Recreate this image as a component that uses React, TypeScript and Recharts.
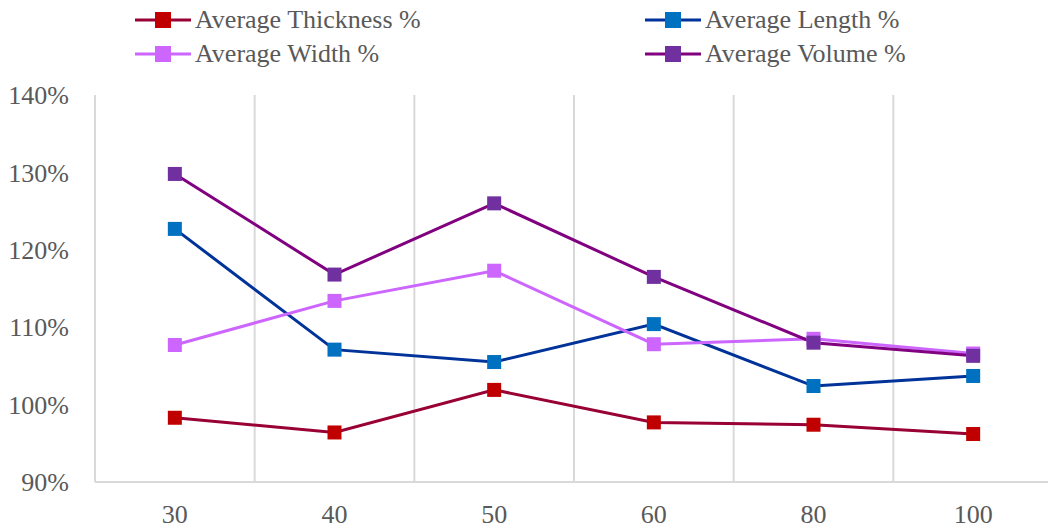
import { Line, LineChart, ReferenceLine, XAxis, YAxis } from 'recharts'

const categories = ['30', '40', '50', '60', '80', '100']
const thickness = [98.3, 96.4, 101.9, 97.7, 97.4, 96.2]
const length = [122.7, 107.1, 105.5, 110.4, 102.4, 103.7]
const width = [107.7, 113.4, 117.3, 107.8, 108.5, 106.6]
const volume = [129.8, 116.8, 126.0, 116.5, 108.0, 106.3]
const yTicks = [90, 100, 110, 120, 130, 140]

const series = [
  { key: 'thickness', name: 'Average Thickness %', values: thickness, line: '#990033', marker: '#C00000' },
  { key: 'length', name: 'Average Length %', values: length, line: '#003399', marker: '#0070C0' },
  { key: 'width', name: 'Average Width %', values: width, line: '#CC66FF', marker: '#CC66FF' },
  { key: 'volume', name: 'Average Volume %', values: volume, line: '#800080', marker: '#7030A0' },
]

const data = categories.map((c, i) => {
  const row: Record<string, number | string> = { pos: i, label: c }
  series.forEach((s) => {
    row[s.key] = s.values[i]
  })
  return row
})

// boundaries between categories, where the vertical grid lines go
const boundaries = categories.slice(1).map((_, i) => i + 0.5)

const FONT = '"Times New Roman", "Liberation Serif", serif'
const TEXT = '#595959'
const GRID = '#D9D9D9'

function squareDot(fill: string) {
  return (props: any) => {
    const { cx, cy, index } = props
    if (cx == null || cy == null) return <g key={index} />
    return <rect key={index} x={cx - 7} y={cy - 7} width={14} height={14} fill={fill} />
  }
}

function LegendBox() {
  const cols = [135, 645]
  const rows = [20, 54]
  return (
    <div style={{ position: 'absolute', left: 0, top: 0, width: 1048, height: 80 }}>
      {series.map((s, i) => (
        <div
          key={s.key}
          style={{
            position: 'absolute',
            left: cols[i % 2],
            top: rows[Math.floor(i / 2)] - 15,
            height: 30,
            display: 'flex',
            alignItems: 'center',
            fontFamily: FONT,
            fontSize: 26,
            color: TEXT,
            whiteSpace: 'nowrap',
          }}
        >
          <svg width={58} height={30} style={{ marginRight: 2 }}>
            <line x1={0} x2={56} y1={15} y2={15} stroke={s.line} strokeWidth={3} />
            <rect x={20} y={7} width={16} height={16} fill={s.marker} />
          </svg>
          <span>{s.name}</span>
        </div>
      ))}
    </div>
  )
}

export default function App() {
  return (
    <div style={{ position: 'absolute', left: 0, top: 0, width: 1048, height: 528, overflow: 'hidden', background: '#fff' }}>
      <LineChart
        width={1060}
        height={528}
        data={data}
        margin={{ top: 95, right: 7, bottom: 16, left: 0 }}
      >
        {boundaries.map((b) => (
          <ReferenceLine key={b} x={b} stroke={GRID} strokeWidth={2} />
        ))}
        <XAxis
          dataKey="pos"
          type="number"
          height={30}
          domain={[-0.5, 5.5]}
          allowDataOverflow
          ticks={categories.map((_, i) => i)}
          tickFormatter={(v: number) => categories[v] ?? ''}
          tickLine={false}
          tickSize={0}
          tickMargin={23}
          axisLine={{ stroke: GRID, strokeWidth: 2 }}
          tick={{ fill: TEXT, fontSize: 26, fontFamily: FONT }}
        />
        <YAxis
          width={95}
          domain={[90, 140]}
          ticks={yTicks}
          tickFormatter={(v: number) => `${v}%`}
          tickLine={false}
          tickSize={0}
          tickMargin={26}
          axisLine={{ stroke: GRID, strokeWidth: 2 }}
          tick={{ fill: TEXT, fontSize: 26, fontFamily: FONT }}
          allowDataOverflow
        />
        {series.map((s) => (
          <Line
            key={s.key}
            dataKey={s.key}
            name={s.name}
            type="linear"
            stroke={s.line}
            strokeWidth={3}
            dot={squareDot(s.marker)}
            activeDot={false}
            isAnimationActive={false}
          />
        ))}
      </LineChart>
      <LegendBox />
    </div>
  )
}
